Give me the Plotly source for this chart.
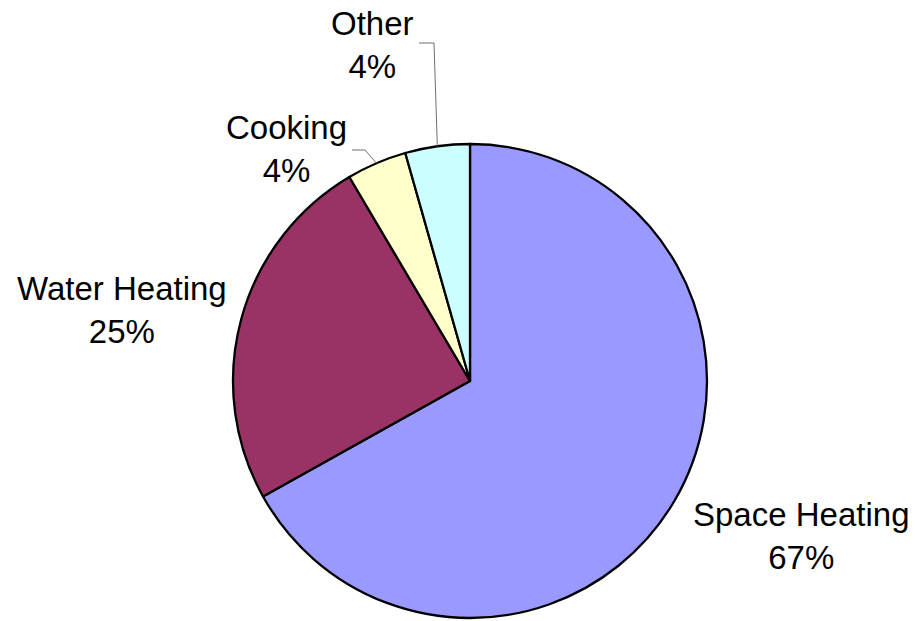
import math
import plotly.graph_objects as go

# ---- data ----
labels = ["Space Heating", "Water Heating", "Cooking", "Other"]
values = [66.9, 24.6, 4.1, 4.4]
colors = ["#9999FF", "#993366", "#FFFFCC", "#CCFFFF"]

# ---- layout geometry (pixels) ----
W, H = 915, 621
CX, CY, R = 470, 381, 237
FONT = dict(family="Liberation Sans, Arial, sans-serif", size=33, color="black")

# label block centres (pixels) and leader-line elbow points
label_pos = {
    "Space Heating": (801, 536),
    "Water Heating": (122, 310),
    "Cooking": (286, 149),
    "Other": (372, 45),
}
leader = {
    "Cooking": [(365, 150), (352, 150)],
    "Other": [(434, 43), (419, 43)],
}


def px(x):
    return x / W


def py(y):
    return 1 - y / H


fig = go.Figure(
    go.Pie(
        labels=labels,
        values=values,
        sort=False,
        direction="clockwise",
        rotation=0,
        marker=dict(colors=colors, line=dict(color="black", width=2.3)),
        textinfo="none",
        hoverinfo="label+percent",
        domain=dict(x=[px(CX - R), px(CX + R)], y=[py(CY + R), py(CY - R)]),
        showlegend=False,
    )
)

total = sum(values)
annotations = []
shapes = []
cum = 0.0
for lab, v in zip(labels, values):
    mid = (cum + v / 2) / total * 2 * math.pi
    cum += v
    pct = int(v / total * 100 + 0.5)
    lx, ly = label_pos[lab]
    annotations.append(
        dict(
            x=px(lx), y=py(ly), xref="paper", yref="paper",
            text=f"{lab}<br>{pct}%", showarrow=False,
            xanchor="center", yanchor="middle", align="center", font=FONT,
        )
    )
    if lab in leader:
        ex = CX + R * math.sin(mid)
        ey = CY - R * math.cos(mid)
        pts = [(ex, ey)] + leader[lab]
        path = "M " + " L ".join(f"{px(x)},{py(y)}" for x, y in pts)
        shapes.append(
            dict(type="path", xref="paper", yref="paper", path=path,
                 line=dict(color="#707070", width=1))
        )

fig.update_layout(
    width=W, height=H,
    margin=dict(l=0, r=0, t=0, b=0),
    paper_bgcolor="white", plot_bgcolor="white",
    annotations=annotations, shapes=shapes,
)

fig.write_html(
    "out.html",
    config={"displayModeBar": False},
    post_script="document.body.style.margin='0';document.body.style.overflow='hidden';",
)
